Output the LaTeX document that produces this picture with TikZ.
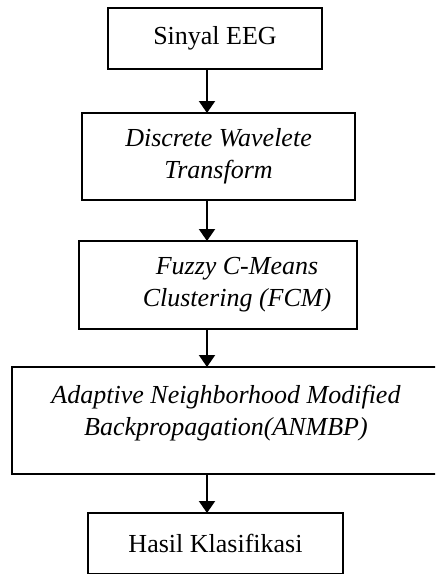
\documentclass[tikz,border=0pt]{standalone}
\usepackage{fontspec}
\setmainfont{Liberation Serif}
\usepackage{tikz}
\usetikzlibrary{arrows.meta,positioning,calc}

\begin{document}
\begin{tikzpicture}[
    x=0.5pt, y=-0.5pt,
    box/.style={rectangle, draw=black, line width=1pt, inner sep=0pt, outer sep=0pt,
                align=center, font=\fontsize{13}{16}\selectfont},
    txt/.style={align=center, inner sep=0pt, font=\fontsize{13}{16}\selectfont\itshape},
    arr/.style={line width=1pt, -{Triangle[length=6pt, width=8pt]}}
]
    \useasboundingbox (0,0) rectangle (435,574);
    \clip (0,0) rectangle (435,574);

    % Process boxes
    \node[box, minimum width=107pt, minimum height=30.5pt] (eeg) at (215,38.5) {Sinyal EEG};
    \node[box, minimum width=136.5pt, minimum height=43.5pt, font=\fontsize{13}{16}\selectfont\itshape] (dwt) at (218.5,156.5) {Discrete Wavelete\\Transform};
    \node[box, minimum width=139pt, minimum height=44pt] (fcm) at (218,285) {};
    \node[txt] (fcmtext) at (237,285) {Fuzzy C-Means\\Clustering (FCM)};
    \node[box, minimum width=214pt, minimum height=53.5pt] (anm) at (226,420.5) {};
    \node[txt] (anmtext) at (226,413) {Adaptive Neighborhood Modified\\Backpropagation(ANMBP)};
    \node[box, minimum width=127.5pt, minimum height=30.5pt] (hsl) at (215.5,543.5) {Hasil Klasifikasi};

    % Flow arrows
    \coordinate (ax) at (207,0);
    \draw[arr] (eeg.south -| ax) -- (dwt.north -| ax);
    \draw[arr] (dwt.south -| ax) -- (fcm.north -| ax);
    \draw[arr] (fcm.south -| ax) -- (anm.north -| ax);
    \draw[arr] (anm.south -| ax) -- (hsl.north -| ax);
\end{tikzpicture}
\end{document}
